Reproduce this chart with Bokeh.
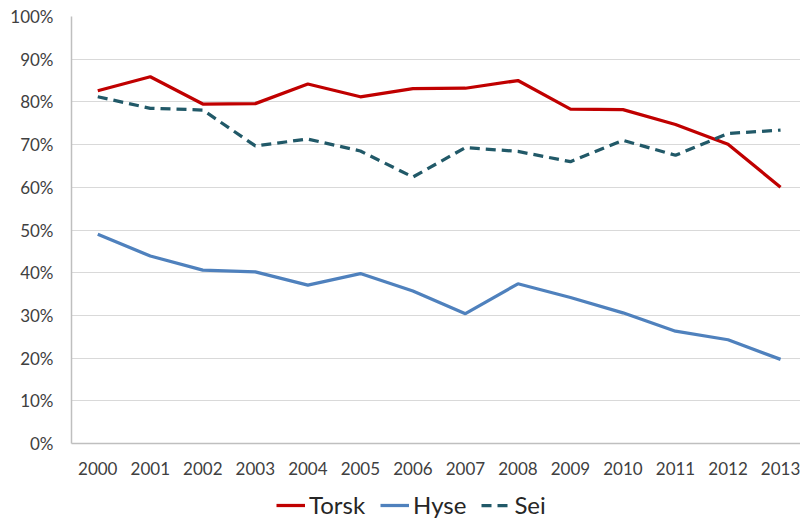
from bokeh.plotting import figure
from bokeh.layouts import column
from bokeh.models import Legend, LegendItem, FixedTicker, NumeralTickFormatter
from bokeh.embed import file_html
from bokeh.resources import INLINE

years = list(range(2000, 2014))
torsk = [82.6, 85.9, 79.5, 79.6, 84.2, 81.2, 83.1, 83.2, 85.0, 78.3, 78.2, 74.7, 70.1, 60.0]
hyse = [49.0, 43.9, 40.6, 40.2, 37.1, 39.8, 35.7, 30.4, 37.4, 34.2, 30.6, 26.3, 24.3, 19.7]
sei = [81.2, 78.5, 78.1, 69.7, 71.3, 68.5, 62.4, 69.3, 68.4, 66.0, 71.0, 67.5, 72.6, 73.4]
series_names = ["Torsk", "Hyse", "Sei"]
y_ticks = [i / 10 for i in range(11)]

FONT = "Lato"
COLORS = ["#C00000", "#4F81BD", "#215968"]
DASHES = ["solid", "solid", "10 6"]
LW = 3.25

p = figure(width=800, height=490, output_backend="svg", toolbar_location=None,
           x_range=(1999.5, 2013.38), y_range=(0, 1),
           min_border_left=71, min_border_right=0, min_border_top=16, min_border_bottom=47)
p.outline_line_color = None
p.background_fill_color = "white"

for vals, c, d in zip([torsk, hyse, sei], COLORS, DASHES):
    p.line(years, [v / 100 for v in vals], line_color=c, line_width=LW, line_dash=d)

p.xgrid.grid_line_color = None
p.ygrid.grid_line_color = "#D9D9D9"
p.ygrid.grid_line_width = 1.2
p.ygrid.ticker = FixedTicker(ticks=y_ticks)

p.yaxis.ticker = FixedTicker(ticks=y_ticks)
p.yaxis.formatter = NumeralTickFormatter(format="0%")
p.xaxis.ticker = FixedTicker(ticks=years)

for ax in (p.xaxis[0], p.yaxis[0]):
    ax.axis_line_color = "#BFBFBF"
    ax.axis_line_width = 1.5
    ax.major_tick_line_color = None
    ax.minor_tick_line_color = None
    ax.major_label_text_font = FONT
    ax.major_label_text_font_size = "17px"
    ax.major_label_text_color = "#404040"

p.yaxis.major_label_standoff = 12
p.xaxis.major_label_standoff = 12

# legend strip below the chart (its renderers lie outside the strip's visible range)
lg = figure(width=800, height=29, output_backend="svg", toolbar_location=None,
            x_range=(0, 1), y_range=(0, 1),
            min_border_left=0, min_border_right=0, min_border_top=0, min_border_bottom=0)
lg.axis.visible = False
lg.grid.grid_line_color = None
lg.outline_line_color = None
items = []
for name, vals, c, d in zip(series_names, [torsk, hyse, sei], COLORS, DASHES):
    r = lg.line(years, vals, line_color=c, line_width=LW, line_dash=d)
    items.append(LegendItem(label=name, renderers=[r]))

legend = Legend(items=items, orientation="horizontal", location=(205, 0),
                label_text_font=FONT, label_text_font_size="24px",
                label_text_color="#262626", glyph_width=29, spacing=15,
                label_standoff=4, padding=0, margin=0,
                border_line_color=None, background_fill_alpha=0)
lg.add_layout(legend, "center")

open("out.html", "w").write(file_html(column(p, lg), INLINE))
